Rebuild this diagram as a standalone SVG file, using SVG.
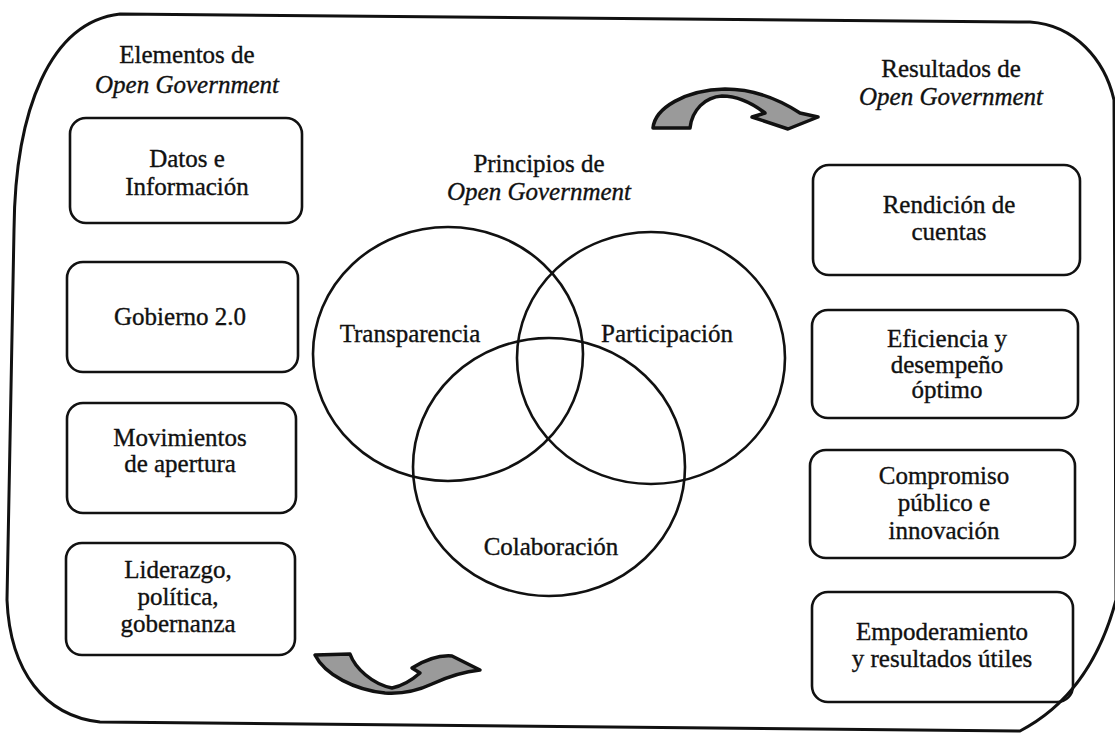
<svg xmlns="http://www.w3.org/2000/svg" width="1115" height="733" viewBox="0 0 1115 733">
<style>
text{font-family:"Liberation Serif","Times New Roman",serif;font-size:25px;fill:#111;stroke:#111;stroke-width:0.35;text-anchor:middle}
.it{font-style:italic}
.box{fill:none;stroke:#111;stroke-width:2.6}
.circ{fill:none;stroke:#111;stroke-width:2.6}
.arr{fill:#9a9a9a;stroke:#111;stroke-width:3.5;stroke-linejoin:round}
.frame{fill:none;stroke:#111;stroke-width:3}
</style>
<rect width="1115" height="733" fill="#fff"/>
<path class="frame" d="M120,14 L1030,22 C1075,25 1105,60 1114,100 L1116,600 C1100,660 1070,705 1020,731 L100,722 C45,716 10,672 7,600 L14,230 C15,110 50,22 120,14 Z"/>
<g id="title-elementos"><text x="187" y="63">Elementos de</text><text x="187" y="93" class="it">Open Government</text></g>
<g id="title-principios"><text x="539" y="172">Principios de</text><text x="539" y="200" class="it">Open Government</text></g>
<g id="title-resultados"><text x="951" y="77">Resultados de</text><text x="951" y="105" class="it">Open Government</text></g>
<g id="datos"><rect class="box" x="70" y="118" width="232" height="105" rx="16"/><text x="187" y="167">Datos e</text><text x="187" y="195">Información</text></g>
<g id="gobierno"><rect class="box" x="67" y="262" width="231" height="110" rx="16"/><text x="180" y="325">Gobierno 2.0</text></g>
<g id="movimientos"><rect class="box" x="67" y="403" width="229" height="110" rx="16"/><text x="180" y="446">Movimientos</text><text x="180" y="472">de apertura</text></g>
<g id="liderazgo"><rect class="box" x="66" y="543" width="229" height="112" rx="16"/><text x="178" y="578">Liderazgo,</text><text x="178" y="605">política,</text><text x="178" y="632">gobernanza</text></g>
<g id="transparencia"><ellipse class="circ" cx="448" cy="354" rx="135" ry="127"/><text x="410" y="342">Transparencia</text></g>
<g id="participacion"><ellipse class="circ" cx="651" cy="358" rx="134" ry="126"/><text x="667" y="342">Participación</text></g>
<g id="colaboracion"><ellipse class="circ" cx="549" cy="467" rx="136" ry="129"/><text x="551" y="555">Colaboración</text></g>
<g id="rendicion"><rect class="box" x="813" y="165" width="267" height="110" rx="16"/><text x="949" y="213">Rendición de</text><text x="949" y="240">cuentas</text></g>
<g id="eficiencia"><rect class="box" x="812" y="310" width="266" height="108" rx="16"/><text x="947" y="347">Eficiencia y</text><text x="947" y="373">desempeño</text><text x="947" y="398">óptimo</text></g>
<g id="compromiso"><rect class="box" x="810" y="450" width="265" height="108" rx="16"/><text x="944" y="484">Compromiso</text><text x="944" y="511">público e</text><text x="944" y="539">innovación</text></g>
<g id="empoderamiento"><rect class="box" x="812" y="592" width="261" height="110" rx="16"/><text x="942" y="640">Empoderamiento</text><text x="942" y="667">y resultados útiles</text></g>
<g id="connectors">
<path class="arr" d="M653,128 C655,108 685,90 725,89 C755,89 780,100 800,113 L818,117 L788,129 L752,117 L765,113 C752,103 738,96 722,96 C705,97 692,110 690,128 Z"/>
<path class="arr" d="M315,655 L350,654 C355,668 372,684 392,688 C402,686 412,680 420,673 L412,668 C425,660 440,655 452,656 L480,670 C460,672 445,678 432,684 C415,692 400,694 385,693 C355,690 325,675 315,655 Z"/>
</g>
</svg>
